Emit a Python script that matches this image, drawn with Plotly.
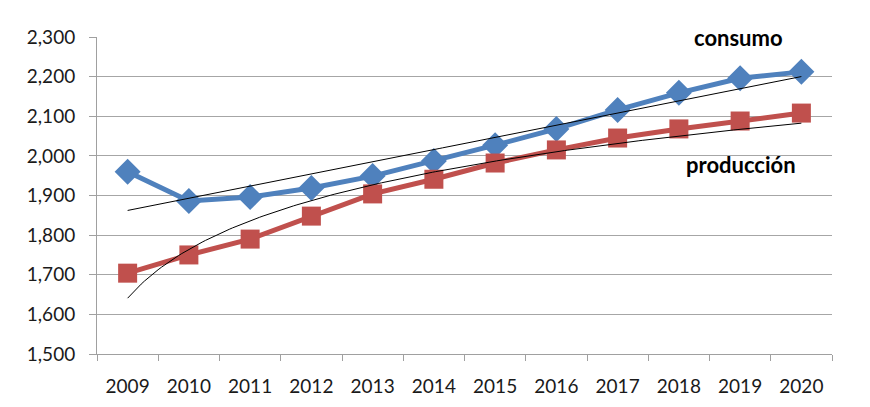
import numpy as np
import plotly.graph_objects as go

years = [2009, 2010, 2011, 2012, 2013, 2014, 2015, 2016, 2017, 2018, 2019, 2020]
consumo = [1960, 1886, 1896, 1919, 1949, 1987, 2027, 2068, 2116, 2159, 2196, 2212]
produccion = [1704, 1750, 1790, 1848, 1904, 1941, 1982, 2015, 2045, 2068, 2088, 2108]
y_ticks = [1500, 1600, 1700, 1800, 1900, 2000, 2100, 2200, 2300]

BLUE = "#4F81BD"
RED = "#C0504D"
FONT = "Lato"

idx = np.arange(1, len(years) + 1)
# linear trend for consumo (as Excel trendline)
lin = np.polyfit(idx, consumo, 1)
# logarithmic trend for produccion
logc = np.polyfit(np.log(idx), produccion, 1)
xf = np.linspace(1, len(years), 200)
yr_f = years[0] + xf - 1

fig = go.Figure()
fig.add_trace(go.Scatter(x=years, y=consumo, mode="lines+markers",
                         line=dict(color=BLUE, width=5),
                         marker=dict(symbol="diamond", size=20, color=BLUE),
                         showlegend=False))
fig.add_trace(go.Scatter(x=years, y=produccion, mode="lines+markers",
                         line=dict(color=RED, width=5),
                         marker=dict(symbol="square", size=19, color=RED),
                         showlegend=False))
fig.add_trace(go.Scatter(x=yr_f, y=np.polyval(lin, xf), mode="lines",
                         line=dict(color="black", width=1), showlegend=False))
fig.add_trace(go.Scatter(x=yr_f, y=np.polyval(logc, np.log(xf)), mode="lines",
                         line=dict(color="black", width=1), showlegend=False))

fig.add_annotation(x=2018.97, y=2300, text="<b>consumo</b>", showarrow=False,
                   xanchor="center", yanchor="middle",
                   font=dict(family=FONT, size=22, color="black"))
fig.add_annotation(x=2019.01, y=1977, text="<b>producción</b>", showarrow=False,
                   xanchor="center", yanchor="middle",
                   font=dict(family=FONT, size=22, color="black"))

fig.update_layout(
    width=870, height=407,
    margin=dict(l=89, r=46, t=29, b=61),
    paper_bgcolor="white", plot_bgcolor="white",
    font=dict(family=FONT, size=19, color="#1a1a1a"),
    xaxis=dict(range=[2008.5, 2020.5], tickvals=years,
               ticktext=[str(y) for y in years],
               showgrid=False, showline=True, linecolor="#A0A0A0", linewidth=1,
               ticks="", ticklabelstandoff=15,
               minor=dict(tickvals=[y - 0.5 for y in years] + [2020.5],
                          ticks="outside", ticklen=6, tickcolor="#A0A0A0"),
               zeroline=False, fixedrange=True),
    yaxis=dict(range=[1500, 2300], tickvals=y_ticks,
               ticktext=[f"{v:,}" for v in y_ticks],
               showgrid=True, gridcolor="#A6A6A6", gridwidth=1,
               showline=True, linecolor="#A0A0A0", linewidth=1,
               ticks="outside", ticklen=7, tickcolor="#A0A0A0",
               ticklabelstandoff=10, zeroline=False, fixedrange=True),
)

fig.write_html("out.html")
